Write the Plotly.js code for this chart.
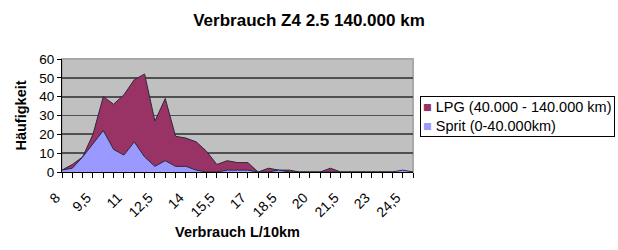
<!DOCTYPE html>
<html>
<head>
<meta charset="utf-8">
<script src="https://cdn.plot.ly/plotly-3.0.1.min.js"></script>
<style>
  html, body { margin: 0; padding: 0; background: #ffffff; }
  #chart { width: 618px; height: 250px; }
</style>
</head>
<body>
<div id="chart"></div>
<script>
// Verbrauch in L/10km (categories)
const categories = [8, 8.5, 9, 9.5, 10, 10.5, 11, 11.5, 12, 12.5, 13, 13.5, 14, 14.5, 15, 15.5, 16, 16.5, 17, 17.5,
                    18, 18.5, 19, 19.5, 20, 20.5, 21, 21.5, 22, 22.5, 23, 23.5, 24, 24.5, 25];
// LPG (40.000 - 140.000 km)
const lpgValues = [1, 4, 8, 20, 40, 36, 41, 49, 52, 27, 39, 19, 18, 16, 11, 4, 6, 5, 5, 0,
                   2, 1, 1, 0, 0, 0, 2, 0, 0, 0, 0, 0, 0, 0, 0];
// Sprit (0-40.000km)
const spritValues = [1, 2, 8, 15, 22, 12, 9, 16, 8, 3, 6, 3, 3, 1, 0, 0, 1, 1, 1, 0,
                     0, 1, 0, 0, 0, 0, 0, 0, 0, 0, 0, 0, 0, 1, 0];
// Tick labels (every third category labelled)
const tickLabels = ["8", "", "", "9,5", "", "", "11", "", "", "12,5", "", "", "14", "", "", "15,5", "", "", "17", "",
                    "", "18,5", "", "", "20", "", "", "21,5", "", "", "23", "", "", "24,5", ""];
const seriesNames = ["LPG (40.000 - 140.000 km)", "Sprit (0-40.000km)"];
const seriesColors = ["#993366", "#9999ff"];

const FONT = "Arial, 'Liberation Sans', sans-serif";

const traces = [
  {
    x: categories, y: lpgValues, name: seriesNames[0],
    type: "scatter", mode: "lines", fill: "tozeroy",
    fillcolor: seriesColors[0], line: { color: "#2a2a3a", width: 1 },
    showlegend: false, hoverinfo: "x+y"
  },
  {
    x: categories, y: spritValues, name: seriesNames[1],
    type: "scatter", mode: "lines", fill: "tozeroy",
    fillcolor: seriesColors[1], line: { color: "#2a2a3a", width: 1 },
    showlegend: false, hoverinfo: "x+y"
  }
];

const legendText =
  '<span style="color:' + seriesColors[0] + '">■</span> ' + seriesNames[0] + '<br>' +
  '<span style="color:' + seriesColors[1] + '">■</span> ' + seriesNames[1];

const layout = {
  width: 618, height: 250,
  margin: { l: 62, r: 204.5, t: 59, b: 78.3, pad: 0 },
  paper_bgcolor: "#ffffff",
  plot_bgcolor: "#c0c0c0",
  showlegend: false,
  font: { family: FONT, color: "#000000" },
  title: {
    text: "<b>Verbrauch Z4 2.5 140.000 km</b>",
    font: { family: FONT, size: 17, color: "#000000" },
    x: 0.5, xref: "container", xanchor: "center",
    y: 0.92, yref: "container", yanchor: "middle"
  },
  xaxis: {
    type: "linear",
    range: [8, 25],
    tickmode: "array",
    tickvals: categories,
    ticktext: tickLabels,
    tickangle: -45,
    tickfont: { family: FONT, size: 14, color: "#000000" },
    ticklabelshift: -6,
    ticklabelstandoff: 6,
    ticks: "outside", ticklen: 5, tickcolor: "#000000", tickwidth: 1,
    showgrid: false, zeroline: false,
    showline: true, linecolor: "#000000", linewidth: 1,
    title: { text: "<b>Verbrauch L/10km</b>", font: { family: FONT, size: 14.5, color: "#000000" }, standoff: 7 },
    automargin: false
  },
  yaxis: {
    range: [0, 60],
    tickvals: [0, 10, 20, 30, 40, 50, 60],
    tickfont: { family: FONT, size: 13.5, color: "#000000" },
    ticks: "outside", ticklen: 4, tickcolor: "#000000",
    showgrid: true, gridcolor: "#505050", gridwidth: 1.7,
    zeroline: false,
    showline: true, linecolor: "#000000", linewidth: 1,
    title: { text: "<b>Häufigkeit</b>", font: { family: FONT, size: 14.5, color: "#000000" }, standoff: 9 },
    automargin: false
  },
  shapes: [
    {
      type: "rect", xref: "paper", yref: "paper", x0: 0, x1: 1, y0: 0, y1: 1,
      line: { color: "#a8a8a8", width: 2 }, layer: "between"
    }
  ],
  annotations: [
    {
      xref: "paper", yref: "paper",
      x: 1.0205, y: 0.672, xanchor: "left", yanchor: "top",
      text: legendText, align: "left", showarrow: false,
      font: { family: FONT, size: 14.5, color: "#000000" },
      bgcolor: "#ffffff", bordercolor: "#000000", borderwidth: 1, borderpad: 2
    }
  ]
};

Plotly.newPlot("chart", traces, layout, { displayModeBar: false, staticPlot: true });
</script>
</body>
</html>
